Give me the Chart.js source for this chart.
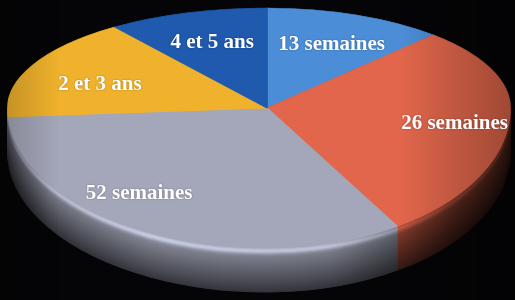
<!DOCTYPE html>
<html>
<head>
<meta charset="utf-8">
<script src="https://cdn.jsdelivr.net/npm/chart.js@4.4.0/dist/chart.umd.min.js"></script>
<style>
    html, body { margin: 0; padding: 0; background: #050507; }
    #wrap { width: 515px; height: 300px; position: relative; }
</style>
</head>
<body>
<div id="wrap"><canvas id="pie"></canvas></div>
<script>
const categories = ['13 semaines', '26 semaines', '52 semaines', '2 et 3 ans', '4 et 5 ans'];
const shares = [12, 29, 33, 16, 10];
const sliceColors = ['#4b8dd6', '#e1664b', '#a4a7b9', '#f0b22c', '#1f5aae'];

// label placement (style only): angle nudge in degrees, radius fraction
const labelNudge = [0, 2, 13, -4, 0];
const labelRadius = [0.70, 0.77, 0.78, 0.70, 0.71];

// fake perspective: apex of the pie and radii for each quadrant
const apex = { x: 267, y: 108 };
const rx = { left: 259, right: 243 };
const ry = { top: 100, bottom: 140 };
const depth = 44;

// horizontal light across the side wall: [screen x, factor]
const sideLight = [[0, 0.6], [50, 0.9], [150, 1.0], [330, 0.95], [400, 0.7], [450, 0.5], [515, 0.35]];

function shade(hex, f) {
    const n = parseInt(hex.slice(1), 16);
    const c = [(n >> 16) & 255, (n >> 8) & 255, n & 255].map(v => Math.max(0, Math.min(255, Math.round(v * f))));
    return `rgb(${c[0]},${c[1]},${c[2]})`;
}

function sideFactor(t) {
    // soft rim highlight near the top edge, darker towards the base
    return 0.88 - 0.55 * t + 0.38 * Math.exp(-Math.pow((t - 0.07) / 0.07, 2));
}

const pie3d = {
    id: 'pie3d',
    beforeDatasetDraw(chart) {
        const ctx = chart.ctx;
        const arcs = chart.getDatasetMeta(0).data;
        const R = arcs[0].outerRadius, cx = arcs[0].x, cy = arcs[0].y;
        const W = chart.width, H = chart.height;

        const top = [
            { sx: rx.left / R, sy: ry.top / R, clip: [0, 0, apex.x, apex.y] },
            { sx: rx.right / R, sy: ry.top / R, clip: [apex.x, 0, W - apex.x, apex.y] }
        ];
        const bottom = [
            { sx: rx.left / R, sy: ry.bottom / R, clip: [0, apex.y, apex.x, H] },
            { sx: rx.right / R, sy: ry.bottom / R, clip: [apex.x, apex.y, W - apex.x, H] }
        ];

        function drawWith(q, dy, colorFn) {
            ctx.save();
            ctx.beginPath();
            ctx.rect(q.clip[0], q.clip[1] + dy, q.clip[2], q.clip[3]);
            ctx.clip();
            ctx.translate(apex.x, apex.y + dy);
            ctx.scale(q.sx, q.sy);
            ctx.translate(-cx, -cy);
            arcs.forEach((arc, i) => {
                const bg = arc.options.backgroundColor, bc = arc.options.borderColor;
                const col = colorFn(i, q);
                arc.options.backgroundColor = col;
                arc.options.borderColor = col;
                arc.draw(ctx);
                arc.options.backgroundColor = bg;
                arc.options.borderColor = bc;
            });
            ctx.restore();
        }

        // gradient in the scaled space of quadrant q
        function sideGradient(q, i, f) {
            const toLocal = X => cx + (X - apex.x) / q.sx;
            const g = ctx.createLinearGradient(toLocal(0), 0, toLocal(W), 0);
            sideLight.forEach(([X, L]) => g.addColorStop(X / W, shade(sliceColors[i], f * L)));
            return g;
        }

        // side wall, deepest layer first
        for (let d = depth; d >= 1; d--) {
            const f = sideFactor(d / depth);
            bottom.forEach(q => drawWith(q, d, (i, qq) => sideGradient(qq, i, f)));
        }
        // top face
        top.concat(bottom).forEach(q => drawWith(q, 0, i => sliceColors[i]));
        return false;
    },
    afterDraw(chart) {
        const ctx = chart.ctx;
        const arcs = chart.getDatasetMeta(0).data;

        // lighting on the top face: shadow to the right, slight darkening at far left
        ctx.save();
        let g = ctx.createLinearGradient(400, 0, 515, 0);
        g.addColorStop(0, 'rgba(0,0,0,0)');
        g.addColorStop(1, 'rgba(0,0,0,0.3)');
        ctx.fillStyle = g;
        ctx.fillRect(400, 0, 115, chart.height);
        g = ctx.createLinearGradient(0, 0, 60, 0);
        g.addColorStop(0, 'rgba(0,0,0,0.2)');
        g.addColorStop(1, 'rgba(0,0,0,0)');
        ctx.fillStyle = g;
        ctx.fillRect(0, 0, 60, chart.height);
        ctx.restore();

        // labels
        ctx.save();
        ctx.font = 'bold 21px "Liberation Serif", "DejaVu Serif", serif';
        ctx.fillStyle = '#ffffff';
        ctx.textAlign = 'center';
        ctx.textBaseline = 'middle';
        ctx.shadowColor = 'rgba(0,0,0,0.35)';
        ctx.shadowBlur = 2;
        arcs.forEach((arc, i) => {
            const phi = (arc.startAngle + arc.endAngle) / 2 + labelNudge[i] * Math.PI / 180;
            const c = Math.cos(phi), s = Math.sin(phi);
            const x = apex.x + c * labelRadius[i] * (c < 0 ? rx.left : rx.right);
            const y = apex.y + s * labelRadius[i] * (s < 0 ? ry.top : ry.bottom) + 2;
            ctx.fillText(categories[i], x + 2, y);
        });
        ctx.restore();
    }
};

new Chart(document.getElementById('pie'), {
    type: 'pie',
    data: {
        labels: categories,
        datasets: [{
            data: shares,
            backgroundColor: sliceColors,
            borderColor: sliceColors,
            borderWidth: 1
        }]
    },
    options: {
        responsive: true,
        maintainAspectRatio: false,
        animation: false,
        layout: { padding: 0 },
        plugins: {
            legend: { display: false },
            tooltip: { enabled: false }
        }
    },
    plugins: [pie3d]
});
</script>
</body>
</html>
